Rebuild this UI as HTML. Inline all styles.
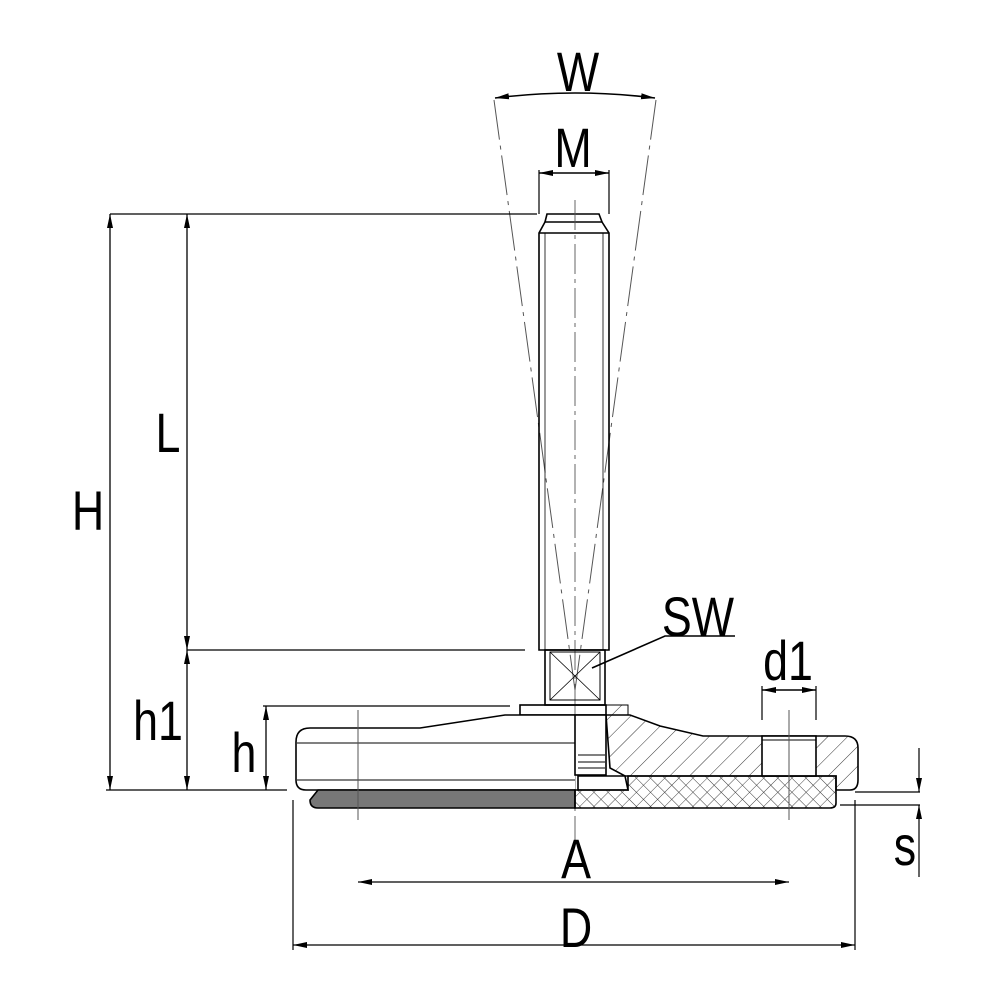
<!DOCTYPE html>
<html><head><style>body{margin:0;background:#fff}svg{display:block}</style></head><body>
<svg width="1000" height="1000" viewBox="0 0 1000 1000" xmlns="http://www.w3.org/2000/svg" font-family="Liberation Sans, sans-serif">
<defs>
<pattern id="hatch" patternUnits="userSpaceOnUse" width="14" height="14" patternTransform="rotate(45)"><line x1="0" y1="0" x2="0" y2="14" stroke="#333" stroke-width="1"/></pattern>
<pattern id="cross" patternUnits="userSpaceOnUse" width="10" height="10" patternTransform="rotate(45)"><path d="M0 0V10M0 0H10" stroke="#333" stroke-width="0.9"/></pattern>
<marker id="ar" markerWidth="14" markerHeight="8" refX="14" refY="4" orient="auto-start-reverse" markerUnits="userSpaceOnUse"><path d="M0 1L14 4L0 7z" fill="#000"/></marker>
</defs>
<g stroke="#000" fill="none" stroke-width="1.6">
<g stroke="#555" stroke-width="1" stroke-dasharray="40,6,4,6">
<line x1="494" y1="100" x2="575" y2="690"/><line x1="656" y1="100" x2="575" y2="690"/>
</g>
<path d="M495 98 Q575 88 655 98" marker-start="url(#ar)" marker-end="url(#ar)"/>
<line x1="539" y1="170" x2="539" y2="214" stroke-width="1.2"/><line x1="609" y1="170" x2="609" y2="214" stroke-width="1.2"/>
<line x1="539" y1="173" x2="609" y2="173" marker-start="url(#ar)" marker-end="url(#ar)"/>
<path d="M547 214H599L602 222H545Z"/>
<path d="M545 222L539 233V650H609V233L602 222"/>
<line x1="539" y1="233" x2="609" y2="233"/>
<line x1="545" y1="233" x2="545" y2="650" stroke-width="0.8"/><line x1="603" y1="233" x2="603" y2="650" stroke-width="0.8"/>
<line x1="575" y1="200" x2="575" y2="840" stroke="#555" stroke-width="0.9" stroke-dasharray="30,5,4,5"/>
<rect x="545" y="650" width="60" height="55"/>
<rect x="550" y="652" width="50" height="48" stroke-width="1"/>
<path d="M550 652L600 700M600 652L550 700" stroke-width="0.8"/>
<rect x="520" y="705" width="86" height="10"/>
<rect x="606" y="705" width="22" height="10" fill="url(#hatch)" stroke-width="1"/>
<path d="M575 715H505L420 728H310Q296 728 296 742V780Q296 790 306 790H575" fill="#fff"/>
<line x1="297" y1="743" x2="575" y2="743" stroke-width="1"/><line x1="297" y1="780" x2="575" y2="780" stroke-width="1"/>
<path d="M606 715H630L660 726L703 736H845Q858 736 858 748V780Q858 790 850 790H836V776H625L610 768Z" fill="url(#hatch)"/>
<rect x="762" y="736" width="54" height="40" fill="#fff"/>
<line x1="762" y1="740" x2="816" y2="740" stroke-width="1"/>
<rect x="575" y="715" width="31" height="60" fill="#fff"/>
<path d="M578 755H605M578 762H605M578 768H605" stroke-width="1"/>
<path d="M578 776H625L628 790H578Z" fill="#fff"/>
<path d="M318 790H575V808H318Q310 808 310 800Z" fill="#777"/>
<path d="M575 790H628V776H836V803Q836 808 830 808H575Z" fill="url(#cross)"/>
<line x1="358" y1="710" x2="358" y2="820" stroke="#555" stroke-width="1"/>
<line x1="789" y1="710" x2="789" y2="820" stroke="#555" stroke-width="1"/>
<line x1="762" y1="686" x2="762" y2="720" stroke-width="1.2"/><line x1="816" y1="686" x2="816" y2="720" stroke-width="1.2"/>
<line x1="762" y1="690" x2="816" y2="690" marker-start="url(#ar)" marker-end="url(#ar)"/>
<path d="M592 668L665 636H735"/>
<line x1="110" y1="214" x2="537" y2="214" stroke-width="1.3"/>
<line x1="187" y1="650" x2="525" y2="650" stroke-width="1.3"/>
<line x1="263" y1="706" x2="510" y2="706" stroke-width="1.3"/>
<line x1="106" y1="790" x2="287" y2="790" stroke-width="1.3"/>
<line x1="110" y1="214" x2="110" y2="790" marker-start="url(#ar)" marker-end="url(#ar)" stroke-width="1.3"/>
<line x1="187" y1="214" x2="187" y2="650" marker-start="url(#ar)" marker-end="url(#ar)" stroke-width="1.3"/>
<line x1="187" y1="650" x2="187" y2="790" marker-start="url(#ar)" marker-end="url(#ar)" stroke-width="1.3"/>
<line x1="266" y1="706" x2="266" y2="790" marker-start="url(#ar)" marker-end="url(#ar)" stroke-width="1.3"/>
<line x1="358" y1="882" x2="789" y2="882" marker-start="url(#ar)" marker-end="url(#ar)" stroke-width="1.3"/>
<line x1="293" y1="800" x2="293" y2="950" stroke-width="1.2"/><line x1="855" y1="800" x2="855" y2="950" stroke-width="1.2"/>
<line x1="293" y1="945" x2="855" y2="945" marker-start="url(#ar)" marker-end="url(#ar)" stroke-width="1.3"/>
<line x1="855" y1="792" x2="920" y2="792" stroke-width="1.2"/>
<line x1="840" y1="805" x2="920" y2="805" stroke-width="1.2"/>
<line x1="919" y1="748" x2="919" y2="792" marker-end="url(#ar)" stroke-width="1.2"/>
<line x1="919" y1="877" x2="919" y2="805" marker-end="url(#ar)" stroke-width="1.2"/>
</g>
<g font-size="56" fill="#000" text-anchor="middle">
<text transform="translate(578 91) scale(0.8 1)">W</text>
<text transform="translate(573 167) scale(0.8 1)">M</text>
<text transform="translate(168 452) scale(0.8 1)">L</text>
<text transform="translate(88 530) scale(0.8 1)">H</text>
<text transform="translate(158 740) scale(0.8 1)">h1</text>
<text transform="translate(244 772) scale(0.8 1)">h</text>
<text transform="translate(698 636) scale(0.8 1)">SW</text>
<text transform="translate(788 680) scale(0.8 1)">d1</text>
<text transform="translate(576 878) scale(0.8 1)">A</text>
<text transform="translate(576 947) scale(0.8 1)">D</text>
<text transform="translate(905 865) scale(0.8 1)">s</text>
</g>
</svg>
</body></html>
